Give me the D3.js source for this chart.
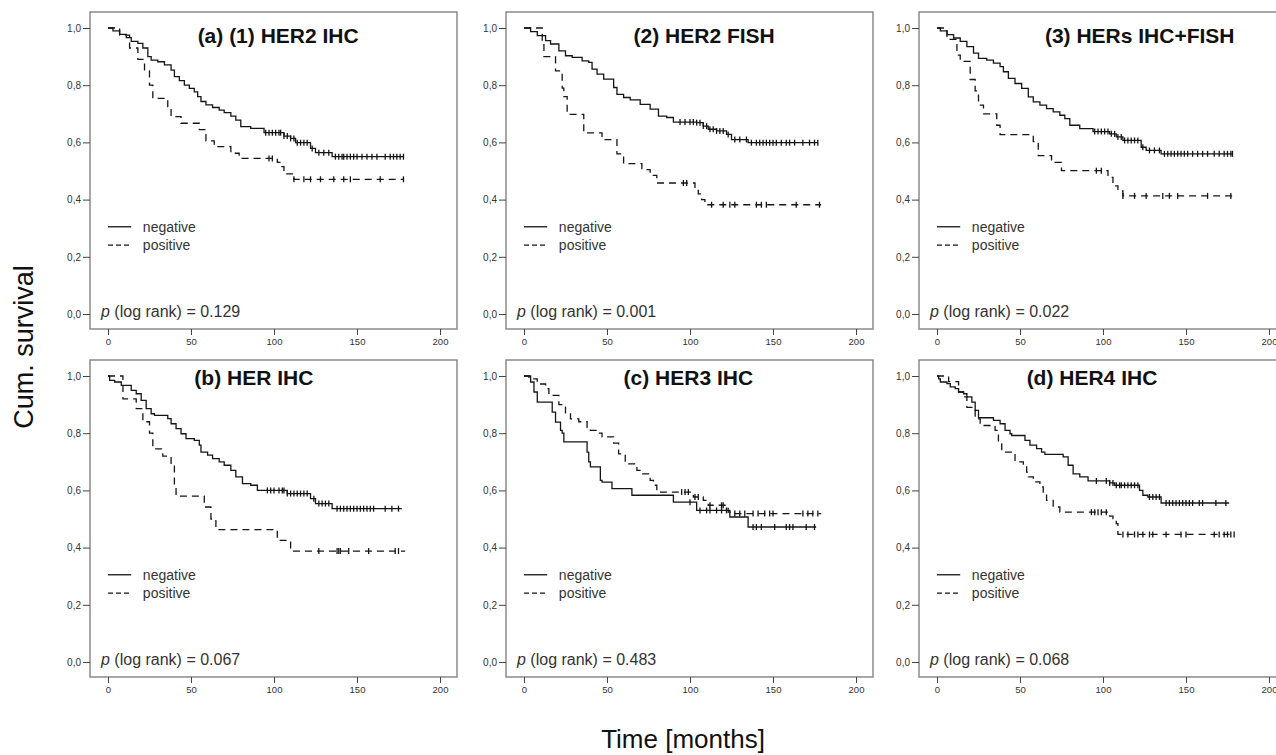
<!DOCTYPE html>
<meta charset="utf-8">
<style>
body { margin: 0; background: #fff; }
text { font-family: Arial, "Liberation Sans", sans-serif; }
.frame { fill: none; stroke: #8a8a8a; stroke-width: 1.5px; }
.curve { fill: none; stroke: #151515; stroke-width: 1.3px; }
.censor { stroke: #151515; stroke-width: 1.3px; }
.axis line { stroke: #444; }
.axis text { fill: #333; }
</style>
<body>
<script src="https://d3js.org/d3.v7.min.js"></script>
<script>
// panel titles and p values, in reading order
var titles = ["(a) (1) HER2 IHC", "(2) HER2 FISH", "(3) HERs IHC+FISH",
              "(b) HER IHC", "(c) HER3 IHC", "(d) HER4 IHC"];
var pValues = ["0.129", "0.001", "0.022", "0.067", "0.483", "0.068"];
var groups = ["negative", "positive"];
var xTicks = [0, 50, 100, 150, 200];
var yTicks = [0, 0.2, 0.4, 0.6, 0.8, 1.0];

// Kaplan-Meier steps [month, cum. survival], censor times, last follow-up
var her2IhcNeg = [[0,1],[3,0.99],[7,0.978],[11,0.966],[14,0.953],[18,0.946],[21,0.93],[24,0.9],[26,0.888],[30,0.882],[34,0.871],[38,0.853],[40,0.83],[43,0.816],[46,0.80],[49,0.789],[52,0.777],[54,0.76],[56,0.743],[59,0.731],[63,0.722],[67,0.713],[70,0.704],[74,0.692],[77,0.678],[80,0.655],[86,0.649],[94,0.634],[106,0.622],[110,0.614],[113,0.599],[122,0.579],[125,0.564],[135,0.55]];
var her2IhcNegCens = [95,97,99,101,103,104,106,108,110,112,114,116,118,120,123,127,130,133,137,139,141,142,144,146,148,150,153,156,159,162,167,170,172,174,176,178];
var her2IhcPos = [[0,1],[7,0.975],[13,0.93],[18,0.89],[22,0.85],[25,0.80],[27,0.754],[36,0.72],[38,0.69],[44,0.667],[55,0.645],[59,0.605],[64,0.585],[74,0.562],[79,0.544],[102,0.53],[104,0.515],[106,0.49],[112,0.471]];
var her2IhcPosCens = [97,99,112,118,122,128,136,142,146,164,178];

var her2FishNeg = [[0,1],[4,0.987],[8,0.973],[13,0.956],[16,0.944],[21,0.92],[25,0.903],[29,0.897],[35,0.885],[39,0.88],[41,0.856],[44,0.839],[48,0.821],[54,0.792],[56,0.768],[60,0.757],[64,0.749],[70,0.733],[76,0.716],[81,0.692],[86,0.687],[90,0.671],[104,0.669],[108,0.657],[111,0.646],[116,0.64],[122,0.628],[125,0.61],[135,0.599]];
var her2FishNegCens = [94,97,100,102,104,106,108,110,112,114,116,118,120,123,127,130,134,137,140,142,144,146,148,150,152,155,158,160,163,168,172,175,177];
var her2FishPos = [[0,1],[11,0.956],[12,0.9],[19,0.85],[23,0.79],[24,0.76],[26,0.698],[36,0.633],[47,0.61],[56,0.56],[60,0.526],[71,0.505],[76,0.485],[80,0.458],[103,0.438],[105,0.42],[107,0.40],[109,0.382]];
var her2FishPosCens = [96,98,113,120,124,127,140,143,146,164,178];

var her2BothNeg = [[0,1],[2,0.99],[6,0.977],[10,0.965],[14,0.953],[18,0.935],[22,0.912],[25,0.894],[30,0.888],[34,0.877],[38,0.865],[40,0.847],[43,0.824],[47,0.806],[51,0.789],[55,0.759],[58,0.742],[62,0.73],[66,0.718],[70,0.707],[74,0.695],[77,0.683],[80,0.66],[86,0.648],[94,0.638],[104,0.63],[108,0.619],[112,0.607],[123,0.583],[126,0.572],[135,0.56]];
var her2BothNegCens = [95,97,99,101,103,105,107,109,111,113,115,117,119,121,124,128,131,134,137,139,141,143,145,147,149,151,154,157,160,163,167,170,173,175,177,178];
var her2BothPos = [[0,1],[6,0.96],[12,0.905],[14,0.883],[20,0.82],[23,0.78],[25,0.73],[28,0.70],[36,0.66],[38,0.627],[58,0.603],[61,0.554],[69,0.53],[75,0.501],[103,0.478],[106,0.448],[109,0.43],[112,0.413]];
var her2BothPosCens = [96,99,112,119,126,136,140,145,163,177];

var herIhcNeg = [[0,1],[1,0.985],[4,0.979],[8,0.967],[14,0.95],[17,0.938],[20,0.915],[23,0.886],[26,0.868],[28,0.862],[36,0.851],[38,0.833],[41,0.816],[44,0.798],[47,0.781],[52,0.775],[55,0.758],[56,0.734],[60,0.723],[63,0.711],[67,0.70],[70,0.688],[74,0.67],[77,0.647],[81,0.624],[86,0.618],[90,0.60],[108,0.589],[122,0.571],[125,0.554],[135,0.536]];
var herIhcNegCens = [96,98,100,103,105,106,108,110,112,114,116,118,120,124,127,129,131,133,138,140,142,144,146,148,150,152,154,156,158,160,167,171,175];
var herIhcPos = [[0,1],[9,0.92],[17,0.886],[21,0.84],[25,0.80],[27,0.745],[33,0.72],[38,0.688],[40,0.618],[41,0.58],[58,0.542],[62,0.50],[65,0.463],[102,0.425],[110,0.388]];
var herIhcPosCens = [127,138,139,140,145,157,173,175];

var her3IhcNeg = [[0,1],[4,0.979],[6,0.944],[8,0.909],[17,0.874],[19,0.839],[22,0.81],[23,0.80],[24,0.77],[38,0.734],[39,0.70],[40,0.682],[46,0.635],[47,0.629],[53,0.606],[65,0.583],[90,0.559],[104,0.53],[124,0.507],[135,0.472]];
var her3IhcNegCens = [100,106,110,112,116,119,122,138,140,143,151,158,160,162,170,175];
var her3IhcPos = [[0,1],[3,0.99],[8,0.972],[13,0.956],[15,0.932],[21,0.9],[25,0.868],[28,0.85],[33,0.84],[38,0.82],[40,0.81],[44,0.80],[47,0.787],[54,0.765],[57,0.728],[61,0.693],[68,0.67],[71,0.658],[76,0.635],[78,0.618],[80,0.594],[102,0.577],[108,0.565],[111,0.548],[123,0.524],[125,0.519]];
var her3IhcPosCens = [95,97,99,103,105,112,119,120,127,130,133,138,141,145,148,150,168,171,174,177];

var her4IhcNeg = [[0,1],[1,0.99],[2,0.979],[6,0.973],[8,0.962],[11,0.956],[13,0.944],[16,0.938],[18,0.927],[21,0.909],[23,0.88],[25,0.854],[34,0.845],[38,0.833],[41,0.81],[44,0.798],[45,0.792],[53,0.775],[56,0.758],[60,0.746],[63,0.734],[65,0.726],[76,0.717],[79,0.688],[82,0.658],[86,0.647],[91,0.633],[104,0.626],[107,0.618],[122,0.60],[124,0.583],[127,0.577],[135,0.556]];
var her4IhcNegCens = [96,102,104,106,108,110,111,113,115,117,119,121,128,130,132,134,138,140,142,144,146,148,150,152,154,158,160,168,174];
var her4IhcPos = [[0,1],[7,0.98],[13,0.944],[16,0.927],[18,0.89],[23,0.85],[26,0.827],[35,0.81],[37,0.763],[39,0.734],[47,0.70],[52,0.688],[54,0.664],[55,0.647],[58,0.63],[62,0.612],[64,0.594],[66,0.565],[70,0.542],[74,0.524],[104,0.51],[106,0.501],[108,0.484],[109,0.446]];
var her4IhcPosCens = [93,95,97,99,102,112,115,119,121,124,128,130,138,147,150,167,170,173,175,177,179];

var lastNeg = [178, 177, 178, 177, 176, 176];
var lastPos = [178, 179, 178, 179, 179, 179];

var panels = [
  {neg: her2IhcNeg, negC: her2IhcNegCens, pos: her2IhcPos, posC: her2IhcPosCens},
  {neg: her2FishNeg, negC: her2FishNegCens, pos: her2FishPos, posC: her2FishPosCens},
  {neg: her2BothNeg, negC: her2BothNegCens, pos: her2BothPos, posC: her2BothPosCens},
  {neg: herIhcNeg, negC: herIhcNegCens, pos: herIhcPos, posC: herIhcPosCens},
  {neg: her3IhcNeg, negC: her3IhcNegCens, pos: her3IhcPos, posC: her3IhcPosCens},
  {neg: her4IhcNeg, negC: her4IhcNegCens, pos: her4IhcPos, posC: her4IhcPosCens}
];

// layout
var width = 1276, height = 755;
var colX0 = [108, 524, 937];   // pixel of month 0
var rowY1 = [28, 376];         // pixel of survival 1.0
var spanX = 332, spanY = 286;
var titleAt = [54, 66, 65, 52, 60, 54];  // month where title starts
var titleDy = [15, 15, 15, 9, 9, 9];

var svg = d3.select("body").append("svg")
    .attr("width", width)
    .attr("height", height);

var fmtY = function(d) { return d3.format(".1f")(d).replace(".", ","); };

function survAt(steps, t) {
  var s = 1;
  for (var i = 0; i < steps.length; i++) {
    if (steps[i][0] <= t) s = steps[i][1];
  }
  return s;
}

panels.forEach(function(p, i) {
  var col = i % 3, row = Math.floor(i / 3);
  var x = d3.scaleLinear().domain([0, 200]).range([colX0[col], colX0[col] + spanX]);
  var y = d3.scaleLinear().domain([0, 1]).range([rowY1[row] + spanY, rowY1[row]]);
  var fx0 = colX0[col] - 18, fx1 = colX0[col] + spanX + 17;
  var fy0 = rowY1[row] - 16, fy1 = rowY1[row] + spanY + 15;

  var g = svg.append("g");

  g.append("rect").attr("class", "frame")
    .attr("x", fx0).attr("y", fy0)
    .attr("width", fx1 - fx0).attr("height", fy1 - fy0);

  g.append("g").attr("class", "axis")
    .attr("transform", "translate(" + fx0 + ",0)")
    .call(d3.axisLeft(y).tickValues(yTicks).tickSize(7).tickPadding(2).tickFormat(fmtY))
    .call(function(a) { a.select(".domain").remove(); })
    .selectAll("text").attr("font-size", 10);

  g.append("g").attr("class", "axis")
    .attr("transform", "translate(0," + fy1 + ")")
    .call(d3.axisBottom(x).tickValues(xTicks).tickSize(6).tickPadding(3))
    .call(function(a) { a.select(".domain").remove(); })
    .selectAll("text").attr("font-size", 9.5);

  var line = d3.line()
    .x(function(d) { return x(d[0]); })
    .y(function(d) { return y(d[1]); })
    .curve(d3.curveStepAfter);

  [[p.neg, p.negC, lastNeg[i], null], [p.pos, p.posC, lastPos[i], "7,5"]].forEach(function(c) {
    var steps = c[0];
    var pts = steps.concat([[c[2], steps[steps.length - 1][1]]]);
    g.append("path").attr("class", "curve")
      .attr("d", line(pts))
      .attr("stroke-dasharray", c[3]);
    g.selectAll(null).data(c[1]).enter().append("line")
      .attr("class", "censor")
      .attr("x1", function(t) { return x(t); })
      .attr("x2", function(t) { return x(t); })
      .attr("y1", function(t) { return y(survAt(steps, t)) - 3; })
      .attr("y2", function(t) { return y(survAt(steps, t)) + 3; });
  });

  // title
  g.append("text")
    .attr("x", x(titleAt[i]))
    .attr("y", y(1) + titleDy[i])
    .attr("font-size", 21)
    .attr("font-weight", "bold")
    .attr("fill", "#111")
    .text(titles[i]);

  // legend
  var legY = [0.305, 0.241];
  groups.forEach(function(name, k) {
    g.append("line")
      .attr("x1", x(0)).attr("x2", x(14))
      .attr("y1", y(legY[k])).attr("y2", y(legY[k]))
      .attr("stroke", "#151515").attr("stroke-width", 1.3)
      .attr("stroke-dasharray", k ? "5,3" : null);
    g.append("text")
      .attr("x", x(21)).attr("y", y(legY[k]))
      .attr("dy", "0.35em")
      .attr("font-size", 14).attr("fill", "#333")
      .text(name);
  });

  // p value
  var pt = g.append("text")
    .attr("x", fx0 + 11).attr("y", y(0) + 3)
    .attr("font-size", 16).attr("fill", "#333");
  pt.append("tspan").attr("font-style", "italic").text("p");
  pt.append("tspan").text(" (log rank) = " + pValues[i]);
});

svg.append("text")
  .attr("transform", "translate(33,347) rotate(-90)")
  .attr("text-anchor", "middle")
  .attr("font-size", 27).attr("fill", "#111")
  .text("Cum. survival");

svg.append("text")
  .attr("x", 683).attr("y", 748)
  .attr("text-anchor", "middle")
  .attr("font-size", 26).attr("fill", "#111")
  .text("Time [months]");
</script>
